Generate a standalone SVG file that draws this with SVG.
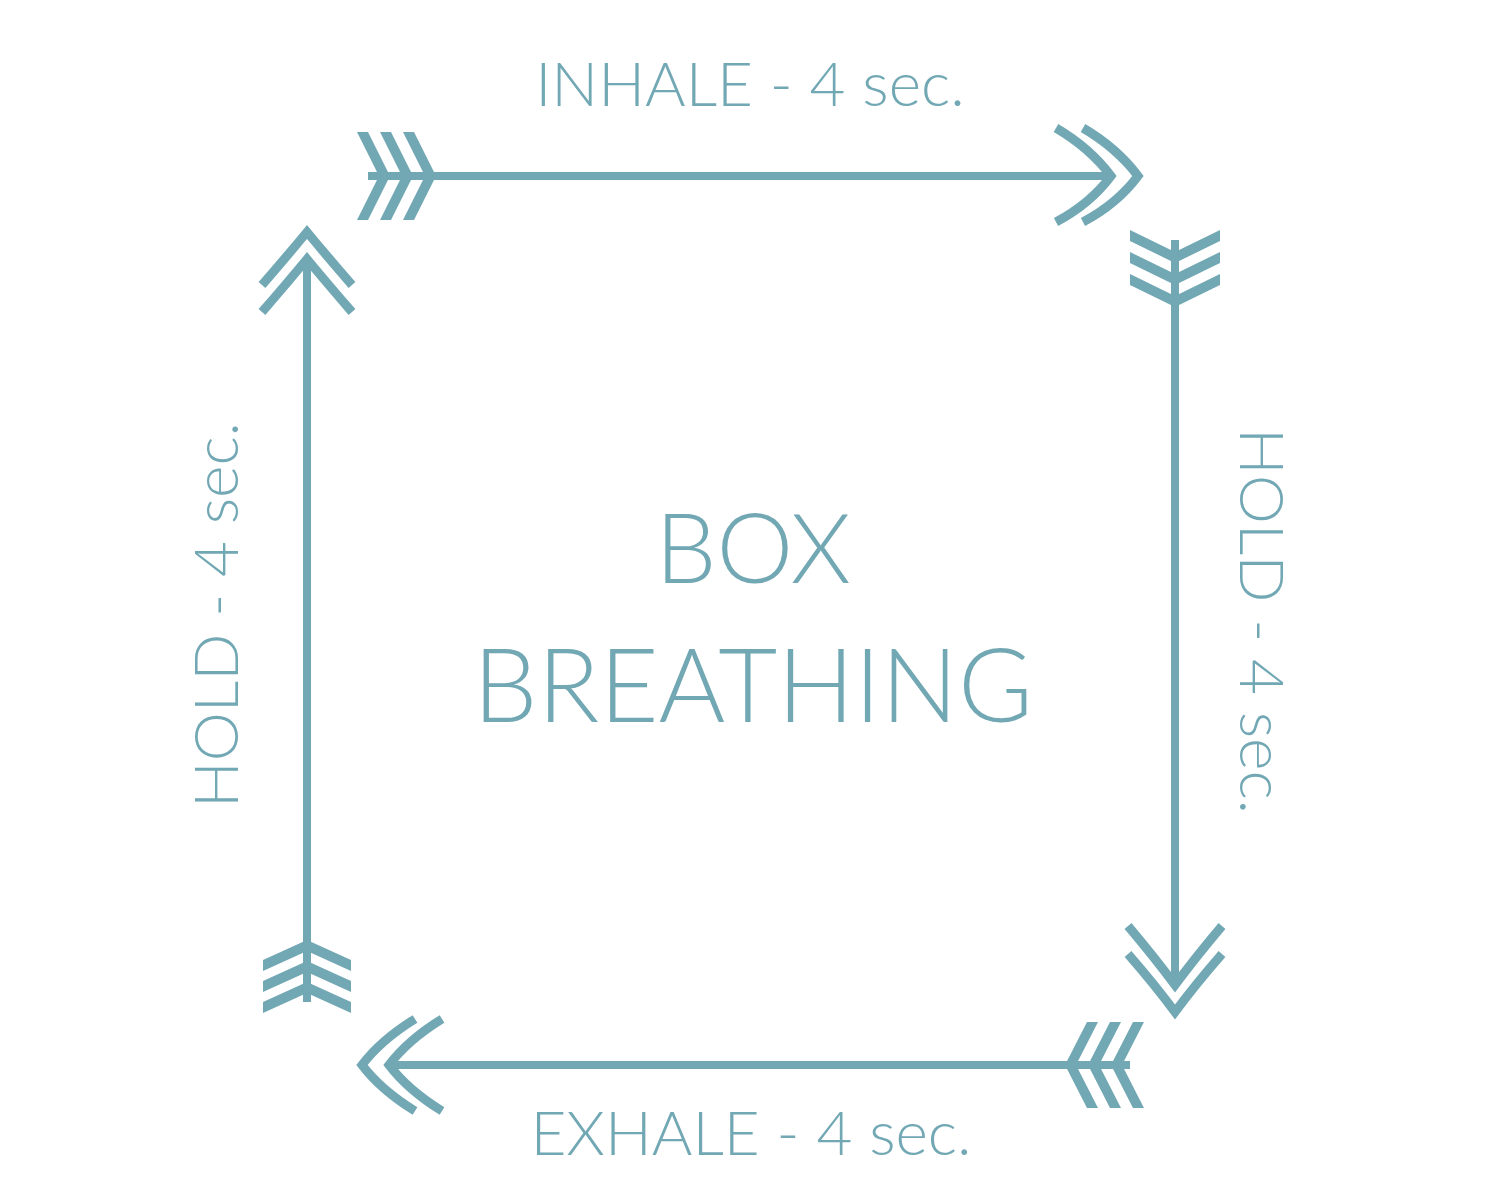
<svg xmlns="http://www.w3.org/2000/svg" width="1501" height="1200" viewBox="0 0 1501 1200">
<style>
.t{font-family:Lato,"Open Sans","Liberation Sans",sans-serif;font-weight:300;fill:#72a8b4}
.sh{stroke:#72a8b4;stroke-width:8;fill:none}
.hd{stroke:#72a8b4;stroke-width:9;fill:none;stroke-linejoin:miter;stroke-miterlimit:10}
.fl{fill:#72a8b4}
</style>
<rect width="1501" height="1200" fill="#ffffff"/>
<g id="connectors">
<g id="arrow-top">
<line class="sh" x1="368" y1="176" x2="1112" y2="176"/>
<path class="fl" d="M357,132h11l22,44l-22,44h-11l22,-44z"/>
<path class="fl" d="M380,132h11l22,44l-22,44h-11l22,-44z"/>
<path class="fl" d="M403,132h11l22,44l-22,44h-11l22,-44z"/>
<path class="hd" d="M1056,128Q1090,148 1111,176Q1090,204 1056,222"/>
<path class="hd" d="M1083,128Q1117,148 1138,176Q1117,204 1083,222"/>
</g>
<g id="arrow-right">
<line class="sh" x1="1175" y1="240" x2="1175" y2="985"/>
<path class="fl" d="M1130,230l45,22l45,-22v11l-45,22l-45,-22z"/>
<path class="fl" d="M1130,252l45,22l45,-22v11l-45,22l-45,-22z"/>
<path class="fl" d="M1130,274l45,22l45,-22v11l-45,22l-45,-22z"/>
<path class="hd" d="M1128,926Q1155,958 1175,985Q1195,958 1222,926"/>
<path class="hd" d="M1128,954Q1155,985 1175,1012Q1195,985 1222,954"/>
</g>
<g id="arrow-bottom">
<line class="sh" x1="389" y1="1065" x2="1130" y2="1065"/>
<path class="fl" d="M1098,1022h-11l-22,43l22,43h11l-22,-43z"/>
<path class="fl" d="M1121,1022h-11l-22,43l22,43h11l-22,-43z"/>
<path class="fl" d="M1144,1022h-11l-22,43l22,43h11l-22,-43z"/>
<path class="hd" d="M442,1019Q408,1040 389,1065Q408,1090 442,1111"/>
<path class="hd" d="M415,1019Q381,1040 362,1065Q381,1090 415,1111"/>
</g>
<g id="arrow-left">
<line class="sh" x1="307" y1="259" x2="307" y2="1002"/>
<path class="fl" d="M263,960l44,-20l44,20v11l-44,-20l-44,20z"/>
<path class="fl" d="M263,981l44,-20l44,20v11l-44,-20l-44,20z"/>
<path class="fl" d="M263,1002l44,-20l44,20v11l-44,-20l-44,20z"/>
<path class="hd" d="M262,312Q288,282 307,259Q326,282 352,312"/>
<path class="hd" d="M262,285Q288,255 307,232Q326,255 352,285"/>
</g>
</g>
<g id="label-inhale"><text class="t" x="750" y="106" font-size="62" text-anchor="middle">INHALE - 4 sec.</text></g>
<g id="label-exhale"><text class="t" x="751" y="1155" font-size="62" text-anchor="middle">EXHALE - 4 sec.</text></g>
<g id="label-hold-left"><text class="t" transform="translate(238,615) rotate(-90)" font-size="62" text-anchor="middle">HOLD - 4 sec.</text></g>
<g id="label-hold-right"><text class="t" transform="translate(1240,621) rotate(90)" font-size="62" text-anchor="middle">HOLD - 4 sec.</text></g>
<g id="title">
<text class="t" x="753" y="583" font-size="97" text-anchor="middle">BOX</text>
<text class="t" x="753" y="722" font-size="102" text-anchor="middle">BREATHING</text>
</g>
</svg>
